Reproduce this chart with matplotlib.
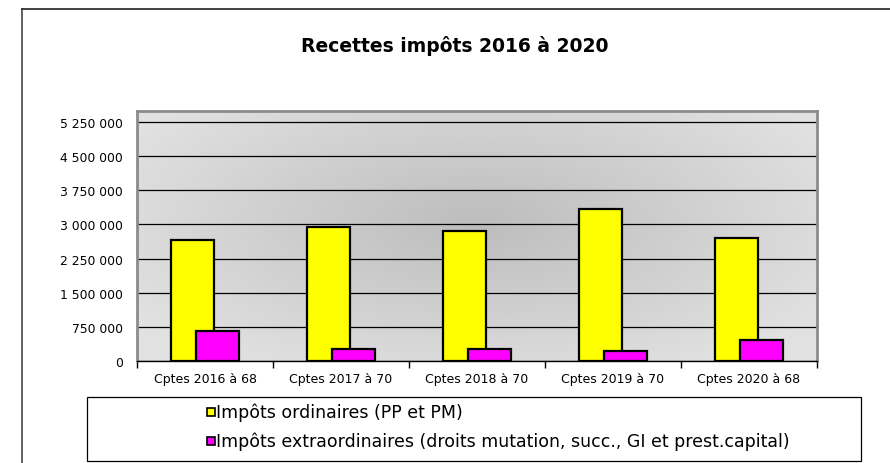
import numpy as np
import matplotlib
matplotlib.use("Agg")
import matplotlib.pyplot as plt
from matplotlib.ticker import FuncFormatter, FixedLocator
from matplotlib.patches import Rectangle
from matplotlib.lines import Line2D

plt.rcParams["font.family"] = ["DejaVu Sans"]

categories = ["Cptes 2016 à 68", "Cptes 2017 à 70", "Cptes 2018 à 70",
              "Cptes 2019 à 70", "Cptes 2020 à 68"]
ordinaires = [2651000, 2943000, 2856000, 3332000, 2711000]
extraordinaires = [659000, 257000, 264000, 213000, 465000]
yticks = [0, 750000, 1500000, 2250000, 3000000, 3750000, 4500000, 5250000]
series_labels = ["Impôts ordinaires (PP et PM)",
                 "Impôts extraordinaires (droits mutation, succ., GI et prest.capital)"]
series_colors = ["#FFFF00", "#FF00FF"]

W, H = 890, 464
fig = plt.figure(figsize=(W / 100, H / 100), dpi=100)

# outer frame (only top and left visible, cropped chart)
fig.add_artist(Line2D([22 / W, 22 / W], [0, 1 - 10 / H], color="#555555", lw=1.3,
                      transform=fig.transFigure))
fig.add_artist(Line2D([22 / W, 1], [1 - 10 / H, 1 - 10 / H], color="#333333", lw=1.3,
                      transform=fig.transFigure))

ax = fig.add_axes([137 / W, 1 - 362 / H, (817 - 137) / W, (362 - 112) / H])

# radial grey gradient background
gx, gy = np.meshgrid(np.linspace(0, 1, 300), np.linspace(0, 1, 200))
r = np.sqrt(((gx - 0.5) / 0.6) ** 2 + ((gy - 0.55) / 0.7) ** 2)
r = np.clip(r, 0, 1)
shade = 0.74 + (0.885 - 0.74) * r
ax.imshow(np.dstack([shade, shade, shade]), extent=[0, 1, 0, 1], transform=ax.transAxes,
          aspect="auto", origin="lower", zorder=0, interpolation="bilinear")

x = np.arange(len(categories))
w = 0.317
off = 0.094
ax.bar(x - off, ordinaires, w, color=series_colors[0], edgecolor="black", linewidth=1.6, zorder=3)
ax.bar(x + off, extraordinaires, w, color=series_colors[1], edgecolor="black", linewidth=1.6, zorder=4)

ax.set_xlim(-0.5, len(categories) - 0.5)
ax.set_ylim(0, 5490000)
ax.set_yticks(yticks)
ax.yaxis.set_major_formatter(FuncFormatter(lambda v, p: f"{v:,.0f}".replace(",", " ")))
ax.grid(axis="y", color="black", lw=0.9, zorder=1)
ax.set_axisbelow(True)
ax.tick_params(axis="y", length=0, pad=10, labelsize=8.9)

ax.set_xticks(x)
ax.set_xticklabels(categories)
ax.tick_params(axis="x", which="major", length=0, pad=8, labelsize=9)
ax.xaxis.set_minor_locator(FixedLocator(np.arange(-0.5, len(categories), 1.0)))
ax.tick_params(axis="x", which="minor", length=5, width=1, color="black")

for s in ["top", "right", "left"]:
    ax.spines[s].set_color("#8c8c8c")
    ax.spines[s].set_linewidth(2)
ax.spines["bottom"].set_color("black")
ax.spines["bottom"].set_linewidth(1)

fig.text(455 / W, 1 - 46 / H, "Recettes impôts 2016 à 2020", ha="center", va="center",
         fontsize=13.5, fontweight="bold")

# legend box with entries
fig.add_artist(Rectangle((87 / W, 1 - 462 / H), (861 - 87) / W, (462 - 398) / H,
                         transform=fig.transFigure, facecolor="white",
                         edgecolor="black", lw=0.9))
for i, (lab, col) in enumerate(zip(series_labels, series_colors)):
    yc = 413 + 29 * i
    fig.add_artist(Rectangle((207 / W, 1 - (yc + 4) / H), 8 / W, 8 / H,
                             transform=fig.transFigure, facecolor=col,
                             edgecolor="black", lw=1.2))
    fig.text(216 / W, 1 - yc / H, lab, ha="left", va="center", fontsize=12.5)

fig.savefig("out.png", dpi=100)
